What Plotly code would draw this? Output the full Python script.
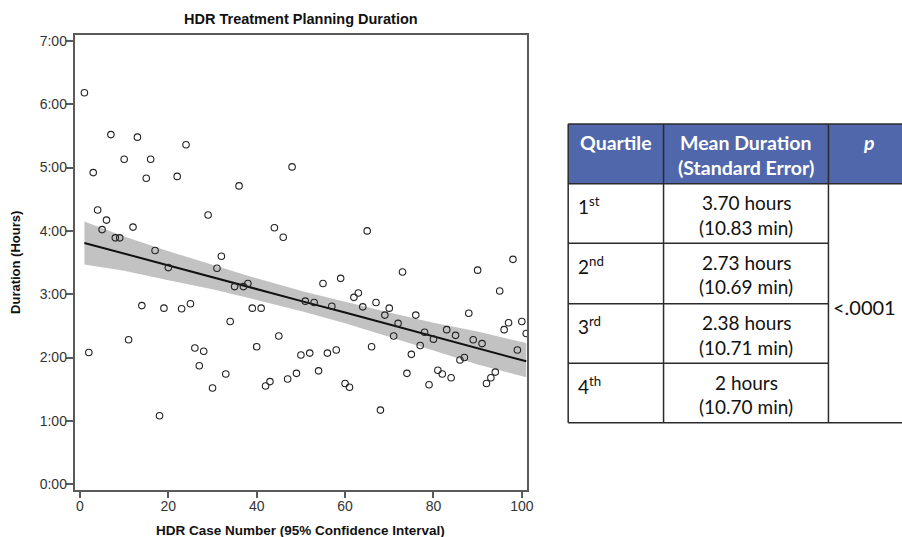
import plotly.graph_objects as go

W, H = 902, 537

# ---------------- data ----------------
case_number = list(range(1, 21)) + list(range(22, 102))
duration_hours = [
    6.18, 2.08, 4.92, 4.33, 4.02, 4.17, 5.52, 3.89, 3.89, 5.13,
    2.28, 4.06, 5.48, 2.82, 4.83, 5.13, 3.69, 1.08, 2.78, 3.42,
    4.86, 2.77, 5.36, 2.85, 2.15, 1.87, 2.10, 4.25, 1.52, 3.41,
    3.60, 1.74, 2.57, 3.12, 4.71, 3.12, 3.17, 2.78, 2.17, 2.78,
    1.55, 1.62, 4.05, 2.34, 3.90, 1.66, 5.01, 1.75, 2.04, 2.89,
    2.07, 2.87, 1.79, 3.17, 2.07, 2.81, 2.12, 3.25, 1.59, 1.53,
    2.95, 3.02, 2.80, 4.00, 2.17, 2.87, 1.17, 2.67, 2.78, 2.34,
    2.54, 3.35, 1.75, 2.05, 2.67, 2.19, 2.40, 1.57, 2.29, 1.80,
    1.74, 2.44, 1.68, 2.35, 1.96, 2.00, 2.70, 2.28, 3.38, 2.22,
    1.59, 1.68, 1.77, 3.05, 2.44, 2.55, 3.55, 2.12, 2.57, 2.38,
]

fit_x = [1, 10, 20, 30, 40, 51, 60, 70, 80, 90, 101]
fit_y = [3.81, 3.64, 3.45, 3.27, 3.08, 2.875, 2.71, 2.52, 2.33, 2.15, 1.94]
ci_upper = [4.15, 3.91, 3.68, 3.46, 3.25, 3.035, 2.88, 2.71, 2.55, 2.41, 2.23]
ci_lower = [3.47, 3.37, 3.22, 3.08, 2.91, 2.715, 2.54, 2.33, 2.11, 1.89, 1.69]

x_ticks = [0, 20, 40, 60, 80, 100]
y_ticks = [0, 1, 2, 3, 4, 5, 6, 7]
y_tick_text = ["0:00", "1:00", "2:00", "3:00", "4:00", "5:00", "6:00", "7:00"]

chart_title = "HDR Treatment Planning Duration"
x_title = "HDR Case Number (95% Confidence Interval)"
y_title = "Duration (Hours)"

table_header = ["Quartile", "Mean Duration<br>(Standard Error)", "p"]
quartiles = ["1<sup>st</sup>", "2<sup>nd</sup>", "3<sup>rd</sup>", "4<sup>th</sup>"]
mean_duration = ["3.70 hours", "2.73 hours", "2.38 hours", "2 hours"]
std_error = ["(10.83 min)", "(10.69 min)", "(10.71 min)", "(10.70 min)"]
p_value = "<.0001"

# ---------------- layout helpers (pixel -> paper) ----------------
def px(x):
    return x / W

def py(y):
    return 1 - y / H

plot_l, plot_r, plot_t, plot_b = 75, 531, 33, 492

fig = go.Figure()

fig.add_trace(go.Scatter(x=fit_x, y=ci_lower, mode="lines", line=dict(width=0),
                         hoverinfo="skip", showlegend=False))
fig.add_trace(go.Scatter(x=fit_x, y=ci_upper, mode="lines", line=dict(width=0),
                         fill="tonexty", fillcolor="#c2c2c2",
                         hoverinfo="skip", showlegend=False))
fig.add_trace(go.Scatter(x=fit_x, y=fit_y, mode="lines",
                         line=dict(color="#111111", width=2), showlegend=False))
fig.add_trace(go.Scatter(x=case_number, y=duration_hours, mode="markers",
                         marker=dict(symbol="circle-open", size=6.5,
                                     color="#222222", line=dict(width=1.1)),
                         showlegend=False))

axis_font = dict(family="Liberation Sans, Arial, sans-serif", size=14, color="#333333")

fig.update_layout(
    width=W, height=H,
    margin=dict(l=0, r=0, t=0, b=0),
    paper_bgcolor="white", plot_bgcolor="white",
    showlegend=False,
    xaxis=dict(domain=[px(plot_l), px(plot_r)], range=[-1.24, 101.28],
               tickvals=x_ticks, ticks="outside", ticklen=6, tickwidth=1.5,
               tickcolor="#5a5a5a", showline=True, linecolor="#5a5a5a",
               linewidth=1.5, mirror=True, showgrid=False, zeroline=False,
               tickfont=axis_font, ticklabelstandoff=-4),
    yaxis=dict(domain=[py(plot_b), py(plot_t)], range=[-0.097, 7.097],
               tickvals=y_ticks, ticktext=y_tick_text, ticks="outside",
               ticklen=7, tickwidth=1.5, tickcolor="#5a5a5a", showline=True,
               linecolor="#5a5a5a", linewidth=1.5, mirror=True,
               showgrid=False, zeroline=False, tickfont=axis_font,
               ticklabelstandoff=-4),
)

title_font = dict(family="Liberation Sans, Arial, sans-serif", size=13, color="#111111")
annotations = [
    dict(text="<b>%s</b>" % chart_title, x=px(303), y=py(17), xref="paper", yref="paper",
         showarrow=False, font=dict(title_font, size=14.5), xanchor="center", yanchor="middle"),
    dict(text="<b>%s</b>" % x_title, x=px(303), y=py(532), xref="paper", yref="paper",
         showarrow=False, font=dict(title_font, size=13.5), xanchor="center", yanchor="middle"),
    dict(text="<b>%s</b>" % y_title, x=px(15), y=py(262), xref="paper", yref="paper",
         showarrow=False, font=title_font, xanchor="center", yanchor="middle",
         textangle=-90),
]

# ---------------- table ----------------
t_left, c1, c2, c3 = 572, 668, 834, 916
h_top, h_bot = 123, 183
row_bot = [243, 304, 364, 424]
line_col = "#2b2b2b"
shapes = []
shapes.append(dict(type="rect", xref="paper", yref="paper", x0=px(t_left), x1=px(c3 + 5),
                   y0=py(h_bot), y1=py(h_top), fillcolor="#5067ab", line=dict(width=0),
                   layer="below"))

def hline(x0, x1, y):
    shapes.append(dict(type="line", xref="paper", yref="paper", x0=px(x0), x1=px(x1),
                       y0=py(y), y1=py(y), line=dict(color=line_col, width=1.5)))

def vline(x, y0, y1):
    shapes.append(dict(type="line", xref="paper", yref="paper", x0=px(x), x1=px(x),
                       y0=py(y0), y1=py(y1), line=dict(color=line_col, width=1.5)))

hline(t_left, c3 + 5, h_top)
hline(t_left, c3 + 5, h_bot)
for rb in row_bot[:-1]:
    hline(t_left, c2, rb)
hline(t_left, c3 + 5, row_bot[-1])
for xv in (t_left, c1, c2, c3):
    vline(xv, h_top, row_bot[-1])

tfont = "Lato, Open Sans, sans-serif"
hdr_font = dict(family=tfont, size=19.5, color="white")
body_font = dict(family=tfont, size=19, color="#111111")

annotations.append(dict(text="<b>%s</b>" % table_header[0], x=px((t_left + c1) / 2), y=py(142),
                        xref="paper", yref="paper", showarrow=False, font=hdr_font,
                        xanchor="center", yanchor="middle"))
h1, h2 = table_header[1].split("<br>")
annotations.append(dict(text="<b>%s</b>" % h1, x=px((c1 + c2) / 2), y=py(142),
                        xref="paper", yref="paper", showarrow=False, font=hdr_font,
                        xanchor="center", yanchor="middle"))
annotations.append(dict(text="<b>%s</b>" % h2, x=px((c1 + c2) / 2), y=py(167),
                        xref="paper", yref="paper", showarrow=False, font=hdr_font,
                        xanchor="center", yanchor="middle"))
annotations.append(dict(text="<b><i>%s</i></b>" % table_header[2], x=px((c2 + c3) / 2), y=py(142),
                        xref="paper", yref="paper", showarrow=False, font=hdr_font,
                        xanchor="center", yanchor="middle"))

row_tops = [h_bot] + row_bot[:-1]
for i in range(4):
    top = row_tops[i]
    annotations.append(dict(text=quartiles[i], x=px(580), y=py(top + 22),
                            xref="paper", yref="paper", showarrow=False, font=body_font,
                            xanchor="left", yanchor="middle"))
    annotations.append(dict(text=mean_duration[i], x=px((c1 + c2) / 2), y=py(top + 19),
                            xref="paper", yref="paper", showarrow=False, font=body_font,
                            xanchor="center", yanchor="middle"))
    annotations.append(dict(text=std_error[i], x=px((c1 + c2) / 2), y=py(top + 44),
                            xref="paper", yref="paper", showarrow=False, font=body_font,
                            xanchor="center", yanchor="middle"))

annotations.append(dict(text=p_value, x=px(837), y=py(307), xref="paper", yref="paper",
                        showarrow=False, font=dict(body_font, size=20),
                        xanchor="left", yanchor="middle"))

fig.update_layout(annotations=annotations, shapes=shapes)

fig.write_html("out.html", config={"displayModeBar": False},
               post_script="document.body.style.margin='0px';")
